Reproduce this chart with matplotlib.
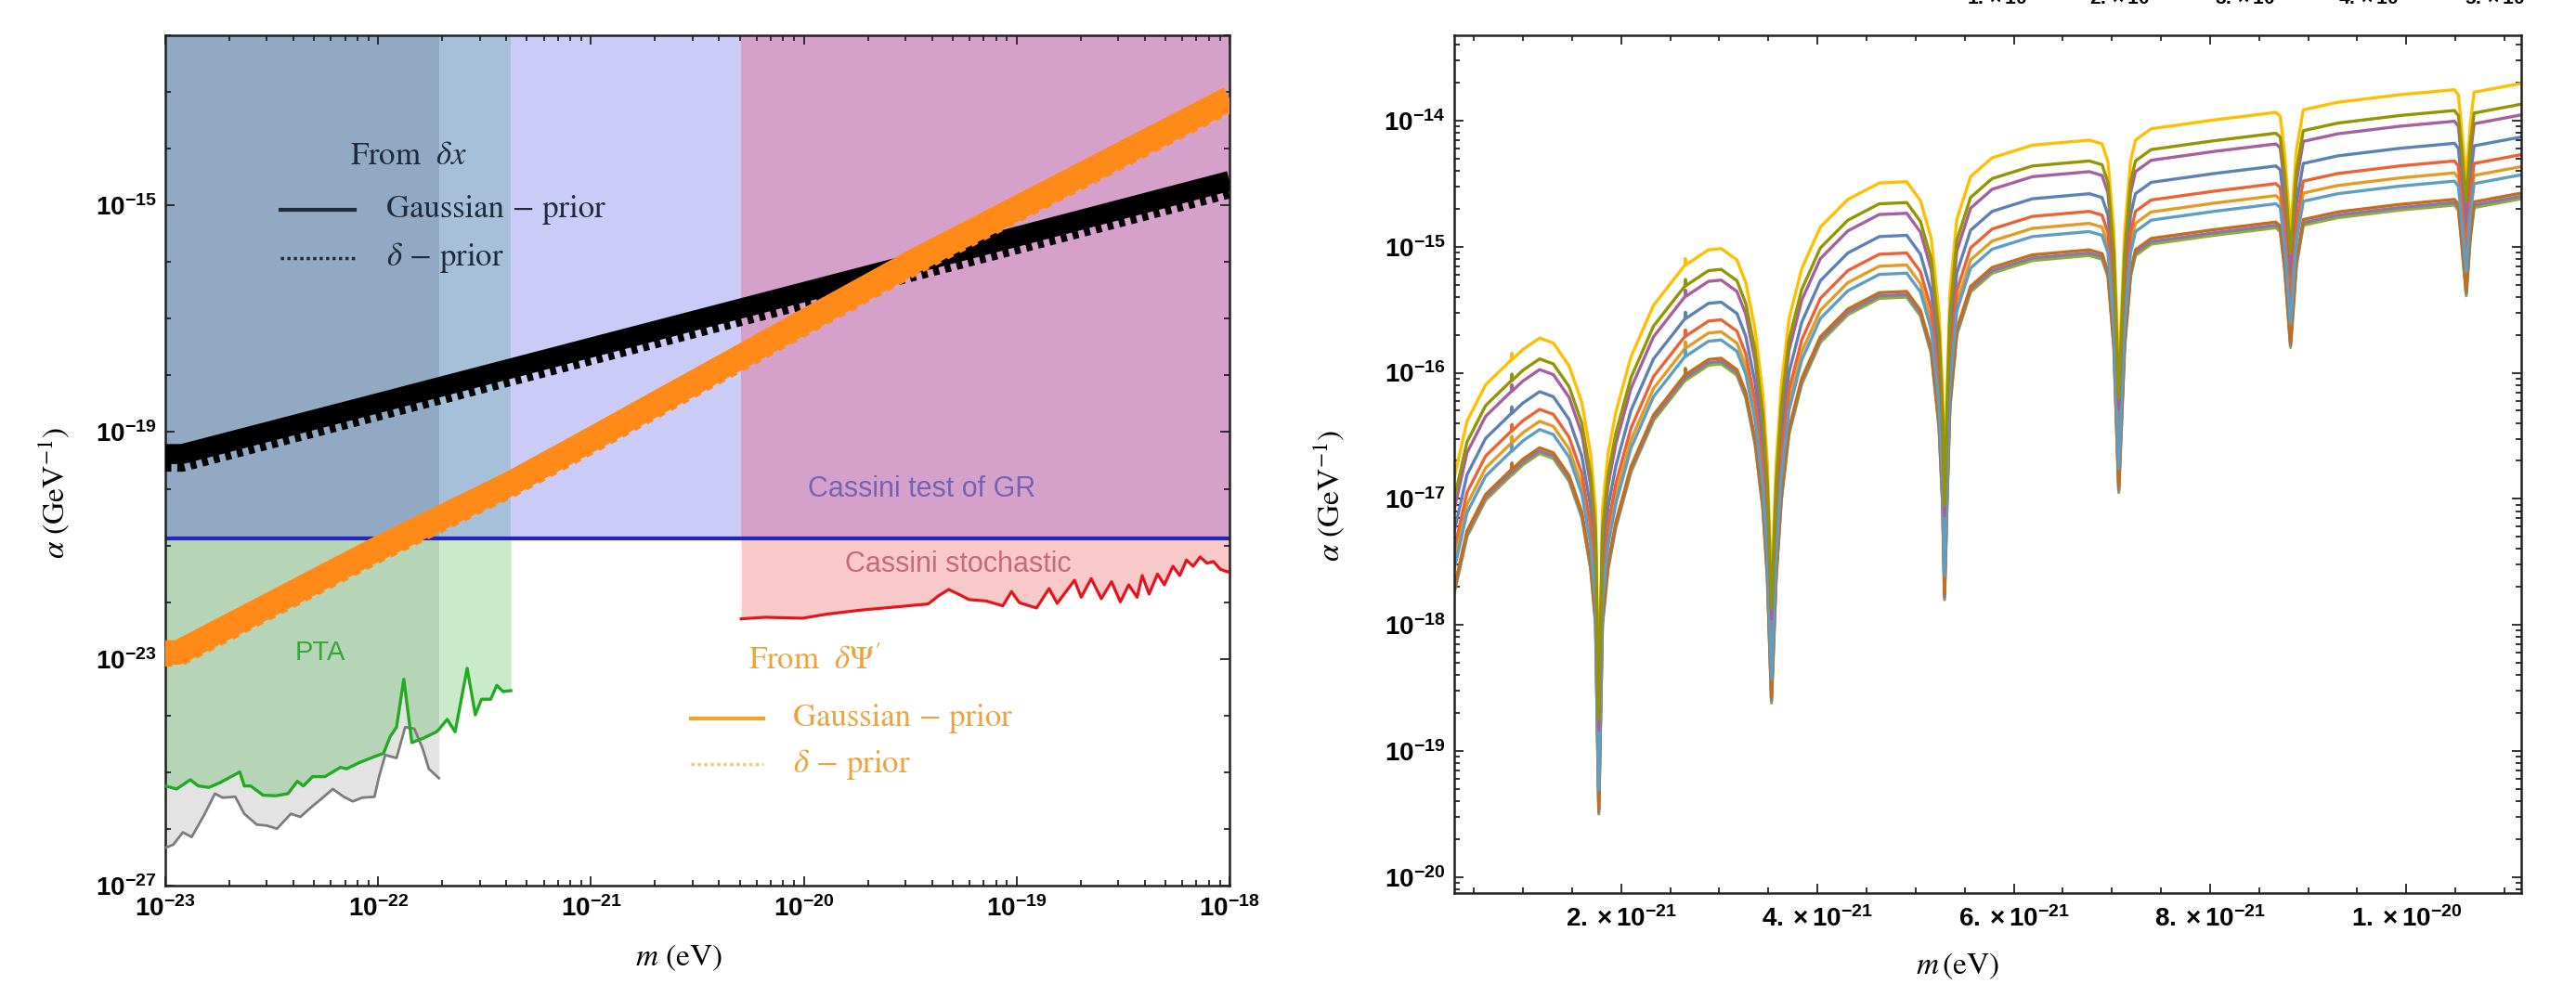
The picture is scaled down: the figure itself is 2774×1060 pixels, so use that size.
import numpy as np
import matplotlib
matplotlib.use("Agg")
import matplotlib.pyplot as plt

plt.rcParams.update({
    "font.family": "Liberation Sans",
    "mathtext.fontset": "custom",
    "mathtext.rm": "Liberation Sans:bold",
    "mathtext.it": "Liberation Sans:bold",
    "mathtext.bf": "Liberation Sans:bold",
    "mathtext.sf": "Liberation Sans:bold",
    "axes.linewidth": 1.8,
})

# ---------------- left panel data ----------------
cassini_gr = 1.35e-21  # Cassini test of GR bound

# From delta x (black)
dx_m = [1e-23, 1.2e-23, 1e-22, 1e-21, 1e-20, 1e-19, 1e-18]
dx_gauss = [4.1e-20, 4.1e-20, 3.25e-19, 3.1e-18, 2.95e-17, 2.8e-16, 2.7e-15]
dx_delta = [3.0e-20, 3.0e-20, 2.4e-19, 2.3e-18, 2.18e-17, 2.07e-16, 2.0e-15]

# From delta Psi' (orange)
psi_m = [1e-23, 1.15e-23, 1e-22, 4.2e-22, 1e-21, 1e-20, 3.27e-20, 1e-19, 1e-18]
psi_gauss = [1.3e-23, 1.3e-23, 8.9e-22, 1.25e-20, 7.4e-20, 8.85e-18, 1.02e-16, 8.9e-16, 7.7e-14]
psi_delta = [1.2e-23, 1.2e-23, 8.2e-22, 1.15e-20, 6.8e-20, 8.1e-18, 9.4e-17, 8.2e-16, 7.1e-14]

# PTA (green)
green_m = [1.0e-23, 1.13e-23, 1.31e-23, 1.43e-23, 1.60e-23, 1.80e-23, 2.24e-23, 2.35e-23, 2.52e-23,
           2.88e-23, 3.30e-23, 3.77e-23, 4.17e-23, 4.45e-23, 4.92e-23, 5.62e-23, 6.65e-23, 7.11e-23,
           8.13e-23, 9.61e-23, 1.06e-22, 1.14e-22, 1.22e-22, 1.32e-22, 1.44e-22, 1.64e-22, 1.88e-22,
           1.93e-22, 2.11e-22, 2.30e-22, 2.62e-22, 2.86e-22, 3.06e-22, 3.38e-22, 3.61e-22, 3.86e-22,
           4.2e-22]
green_a = [5.73e-26, 5.06e-26, 7.38e-26, 5.73e-26, 5.39e-26, 6.50e-26, 1.01e-25, 5.73e-26, 5.73e-26,
           3.93e-26, 3.84e-26, 4.19e-26, 6.92e-26, 5.73e-26, 8.36e-26, 8.36e-26, 1.22e-25, 1.15e-25,
           1.47e-25, 1.89e-25, 2.15e-25, 4.29e-25, 6.24e-25, 4.38e-24, 3.33e-25, 4.02e-25, 5.17e-25,
           5.7e-25, 8.55e-25, 5.17e-25, 6.80e-24, 1.03e-24, 1.94e-24, 1.94e-24, 3.41e-24, 2.65e-24,
           2.75e-24]

# second PTA curve (gray)
gray_m = [1.0e-23, 1.09e-23, 1.21e-23, 1.33e-23, 1.52e-23, 1.71e-23, 1.86e-23, 2.13e-23, 2.35e-23,
          2.69e-23, 2.98e-23, 3.35e-23, 3.89e-23, 4.31e-23, 4.92e-23, 5.45e-23, 6.12e-23, 6.89e-23,
          7.60e-23, 8.41e-23, 9.61e-23, 1.01e-22, 1.08e-22, 1.22e-22, 1.34e-22, 1.48e-22, 1.62e-22,
          1.73e-22, 1.93e-22]
gray_a = [4.64e-27, 5.27e-27, 8.7e-27, 7.2e-27, 1.74e-26, 4.19e-26, 3.56e-26, 3.69e-26, 1.85e-26,
          1.19e-26, 1.15e-26, 1.01e-26, 1.85e-26, 1.63e-26, 2.53e-26, 3.47e-26, 5.06e-26, 3.69e-26,
          3.06e-26, 3.56e-26, 3.69e-26, 8.36e-26, 2.01e-25, 1.78e-25, 6.24e-25, 5.86e-25, 2.59e-25,
          1.15e-25, 7.85e-26]

# Cassini stochastic (red)
red_m = [5.08e-21, 6.58e-21, 9.86e-21, 1.28e-20, 1.84e-20, 2.66e-20, 3.84e-20, 4.3e-20, 4.79e-20,
         5.3e-20, 5.97e-20, 7.18e-20, 8.61e-20, 9.46e-20, 1.03e-19, 1.24e-19, 1.42e-19, 1.55e-19,
         1.87e-19, 2.01e-19, 2.24e-19, 2.50e-19, 2.79e-19, 3.07e-19, 3.36e-19, 3.68e-19, 3.89e-19,
         4.19e-19, 4.59e-19, 4.94e-19, 5.42e-19, 5.84e-19, 6.28e-19, 6.75e-19, 7.28e-19, 7.83e-19,
         8.41e-19, 9.06e-19, 1e-18]
red_a = [5.08e-23, 5.41e-23, 5.21e-23, 6.14e-23, 7.22e-23, 8.19e-23, 9.29e-23, 1.3e-22, 1.67e-22,
         1.4e-22, 1.11e-22, 1.05e-22, 8.61e-23, 1.54e-22, 9.77e-23, 7.89e-23, 1.74e-22, 9.53e-23,
         2.44e-22, 1.22e-22, 2.60e-22, 1.15e-22, 2.30e-22, 1.01e-22, 2.02e-22, 1.22e-22, 2.95e-22,
         1.39e-22, 3.14e-22, 2.02e-22, 4.30e-22, 2.95e-22, 5.53e-22, 4.30e-22, 6.27e-22, 4.88e-22,
         5.20e-22, 3.79e-22, 3.35e-22]

xt_left_exp = [-23, -22, -21, -20, -19, -18]
yt_left_exp = [-27, -23, -19, -15]

# ---------------- right panel data ----------------
m_right_e21 = [0.30, 0.43, 0.62, 0.885, 0.888, 0.891, 1.00, 1.17, 1.31, 1.47, 1.60, 1.69, 1.74, 1.773,
               1.81, 1.867, 1.946, 2.10, 2.33, 2.652, 2.655, 2.658, 2.89, 3.02, 3.18, 3.27, 3.365,
               3.444, 3.49, 3.532, 3.58, 3.633, 3.71, 3.84, 4.03, 4.31, 4.63, 4.91, 5.05, 5.16, 5.24,
               5.275, 5.295, 5.32, 5.35, 5.42, 5.56, 5.78, 6.19, 6.77, 6.90, 6.96, 7.02, 7.07, 7.13,
               7.19, 7.24, 7.40, 8.04, 8.67, 8.715, 8.76, 8.82, 8.88, 8.95, 9.30, 9.93, 10.49, 10.53,
               10.56, 10.61, 10.65, 10.69, 11.17]
log_alpha_base = [-17.75, -17.30, -17.01, -16.81, -16.76, -16.81, -16.73, -16.64, -16.68, -16.86,
                  -17.15, -17.56, -18.00, -19.50, -18.00, -17.56, -17.23, -16.79, -16.38, -16.06,
                  -16.01, -16.06, -15.94, -15.93, -16.02, -16.20, -16.57, -17.08, -17.63, -18.62,
                  -17.63, -17.01, -16.49, -16.09, -15.76, -15.54, -15.41, -15.40, -15.55, -15.85,
                  -16.45, -17.05, -17.80, -17.05, -16.28, -15.70, -15.36, -15.21, -15.11, -15.07,
                  -15.10, -15.24, -15.80, -16.95, -15.80, -15.24, -15.07, -14.98, -14.91, -14.85,
                  -14.88, -15.18, -15.80, -15.15, -14.83, -14.77, -14.71, -14.67, -14.71, -14.95,
                  -15.39, -14.95, -14.69, -14.62]
# offset (decades) of each curve above the lowest one, in plotting order
curve_offsets = [0.49, 0.255, 0.0, 0.35, 0.02, 0.045, 0.19, 0.915, 0.665, 0.75]
curve_colors = ["#5E81B5", "#E19C24", "#8FB032", "#EB6235", "#8778B3",
                "#C56E1A", "#5D9EC7", "#FFBF00", "#A5609D", "#929600"]

xt_right = [2e-21, 4e-21, 6e-21, 8e-21, 1e-20]
xt_right_labels = [r"$2.\times10^{-21}$", r"$4.\times10^{-21}$", r"$6.\times10^{-21}$",
                   r"$8.\times10^{-21}$", r"$1.\times10^{-20}$"]
yt_right_exp = [-20, -19, -18, -17, -16, -15, -14]
top_strip_labels = [r"$1.\times10^{-21}$", r"$2.\times10^{-21}$", r"$3.\times10^{-21}$",
                    r"$4.\times10^{-21}$", r"$5.\times10^{-21}$"]

# ---------------- figure ----------------
fig = plt.figure(figsize=(27.74, 10.6), dpi=100)
axL = fig.add_axes([0.06417, 0.1, 0.41312, 0.86415])
axR = fig.add_axes([0.56453, 0.09245, 0.41420, 0.87170])

SERIF = "STIXGeneral"


def style_axes(ax, pad_x, pad_y):
    ax.tick_params(which="both", direction="in", top=True, right=True, width=1.3, colors="#222222",
                   labelcolor="black")
    ax.tick_params(which="major", length=7.5)
    ax.tick_params(which="minor", length=4)
    ax.tick_params(axis="x", which="both", labelsize=20, pad=pad_x)
    ax.tick_params(axis="y", which="both", labelsize=20, pad=pad_y)
    for s in ax.spines.values():
        s.set_color("#222222")


# ---- left ----
axL.set_xscale("log")
axL.set_yscale("log")
ytop = 1e-12
gray_end = gray_m[-1]
green_end = green_m[-1]
red_start = red_m[0]
m_lo, m_hi = dx_m[0], dx_m[-1]

# regions above Cassini line
for x0, x1, col in [(m_lo, gray_end, "#91a9c3"), (gray_end, green_end, "#a5c0d8"),
                    (green_end, red_start, "#cbcbf8"), (red_start, m_hi, "#d5a1cb")]:
    axL.fill_between([x0, x1], [cassini_gr, cassini_gr], [ytop, ytop], color=col, lw=0, zorder=1)

gm = np.array(green_m)
axL.fill_between(gray_m, gray_a, cassini_gr, color="#e3e3e4", lw=0, zorder=1)
axL.fill_between(gm, green_a, cassini_gr, where=gm <= gray_end, color="#b6d5b6", lw=0, zorder=1.1)
axL.fill_between(gm, green_a, cassini_gr, where=gm >= gray_end, color="#c9ebc9", lw=0, zorder=1.1)
axL.fill_between(red_m, red_a, cassini_gr, color="#f9c8c9", lw=0, zorder=1.1)

axL.axhline(cassini_gr, color="#2424c0", lw=3, zorder=2)
axL.plot(red_m, red_a, color="#e3141c", lw=2.3, zorder=3)
axL.plot(gray_m, gray_a, color="#7c7c7c", lw=2.0, zorder=3)
axL.plot(green_m, green_a, color="#22aa22", lw=2.4, zorder=3)

axL.plot(dx_m, dx_delta, color="black", lw=15.5, ls=(0, (0.3, 0.3)), dash_capstyle="butt", zorder=4)
axL.plot(dx_m, dx_gauss, color="black", lw=15.5, solid_capstyle="butt", zorder=4)
axL.plot(psi_m, psi_delta, color="#ff8a18", lw=19, ls=(0, (0.28, 0.28)), dash_capstyle="butt", zorder=5)
axL.plot(psi_m, psi_gauss, color="#ff8a18", lw=19, solid_capstyle="butt", zorder=5)

# legend-like annotations
tA = axL.transAxes
dark = "#1f2b3a"
axL.text(0.1736, 0.857, r"From  $\delta x$", transform=tA, fontsize=25, family=SERIF,
         math_fontfamily="stix", color=dark, va="center", ha="left", zorder=6)
axL.plot([0.108, 0.178], [0.7948, 0.7948], transform=tA, color=dark, lw=3, zorder=6)
axL.plot([0.108, 0.178], [0.738, 0.738], transform=tA, color=dark, lw=2.5, ls=(0, (1, 1)), zorder=6)
axL.text(0.2077, 0.7948, "Gaussian \u2212 prior", transform=tA, fontsize=25, family=SERIF,
         color=dark, va="center", ha="left", zorder=6)
axL.text(0.2077, 0.738, "$\\delta$ \u2212 prior", transform=tA, fontsize=25, family=SERIF,
         math_fontfamily="stix", color=dark, va="center", ha="left", zorder=6)

orange_txt = "#eba440"
axL.text(0.548, 0.2631, r"From  $\delta\Psi'$", transform=tA, fontsize=25, family=SERIF,
         math_fontfamily="stix", color=orange_txt, va="center", ha="left", zorder=6)
axL.plot([0.494, 0.562], [0.1965, 0.1965], transform=tA, color="#f0a530", lw=3, zorder=6)
axL.plot([0.494, 0.562], [0.143, 0.143], transform=tA, color="#f6c47a", lw=2.5, ls=(0, (1, 1)), zorder=6)
axL.text(0.5899, 0.1965, "Gaussian \u2212 prior", transform=tA, fontsize=25, family=SERIF,
         color=orange_txt, va="center", ha="left", zorder=6)
axL.text(0.5899, 0.143, "$\\delta$ \u2212 prior", transform=tA, fontsize=25, family=SERIF,
         math_fontfamily="stix", color=orange_txt, va="center", ha="left", zorder=6)

axL.text(0.7112, 0.4662, "Cassini test of GR", transform=tA, fontsize=22, color="#7463b4",
         va="center", ha="center", zorder=6)
axL.text(0.7452, 0.3777, "Cassini stochastic", transform=tA, fontsize=22, color="#c46a78",
         va="center", ha="center", zorder=6)
axL.text(0.1457, 0.274, "PTA", transform=tA, fontsize=21, color="#33a833",
         va="center", ha="center", zorder=6)

axL.set_xticks([10.0 ** e for e in xt_left_exp], [rf"$10^{{{e}}}$" for e in xt_left_exp])
axL.set_xticks([k * 10.0 ** e for e in xt_left_exp[:-1] for k in range(2, 10)], minor=True)
axL.set_yticks([10.0 ** e for e in yt_left_exp], [rf"$10^{{{e}}}$" for e in yt_left_exp])
axL.set_yticks([10.0 ** e for e in range(-27, -11)], minor=True)
axL.yaxis.set_minor_formatter(plt.NullFormatter())
axL.xaxis.set_minor_formatter(plt.NullFormatter())
style_axes(axL, pad_x=8, pad_y=7)
axL.set_xlim(m_lo, m_hi)
axL.set_ylim(1e-27, ytop)

axL.set_xlabel(r"$m\ (\mathrm{eV})$", fontsize=24, math_fontfamily="stix")
axL.xaxis.set_label_coords(0.4825, -0.0852)
axL.xaxis.label.set_va("center")
axL.set_ylabel(r"$\alpha\ (\mathrm{GeV}^{-1})$", fontsize=24, math_fontfamily="stix")
axL.yaxis.set_label_coords(-0.1047, 0.462)
axL.yaxis.label.set_va("center")

# ---- right ----
m_right = np.array(m_right_e21) * 1e-21
base = np.array(log_alpha_base)
for col, off in zip(curve_colors, curve_offsets):
    axR.plot(m_right, 10.0 ** (base + off), color=col, lw=2.4)

axR.set_yscale("log")
axR.set_xticks(xt_right, xt_right_labels)
axR.set_xticks(np.arange(0.5, 11.5, 0.5) * 1e-21, minor=True)
axR.set_yticks([10.0 ** e for e in yt_right_exp], [rf"$10^{{{e}}}$" for e in yt_right_exp])
axR.set_yticks([k * 10.0 ** e for e in range(-21, -13) for k in range(2, 10)], minor=True)
axR.yaxis.set_minor_formatter(plt.NullFormatter())
style_axes(axR, pad_x=10, pad_y=7)
axR.set_xlim(0.3e-21, 1.117e-20)
axR.set_ylim(7.47e-21, 4.75e-14)

axR.set_xlabel(r"$m\,(\mathrm{eV})$", fontsize=24, math_fontfamily="stix")
axR.xaxis.set_label_coords(0.4717, -0.0855)
axR.xaxis.label.set_va("center")
axR.set_ylabel(r"$\alpha\ (\mathrm{GeV}^{-1})$", fontsize=24, math_fontfamily="stix")
axR.yaxis.set_label_coords(-0.1175, 0.4632)
axR.yaxis.label.set_va("center")

# tick labels of a panel above, cut by the image edge as in the source figure
for xp, lab in zip([2163, 2295, 2430, 2563, 2699], top_strip_labels):
    fig.text(xp / 2774, 1 + 2 / 1060, lab, fontsize=15, ha="center", va="center")

fig.savefig("out.png", dpi=100)
